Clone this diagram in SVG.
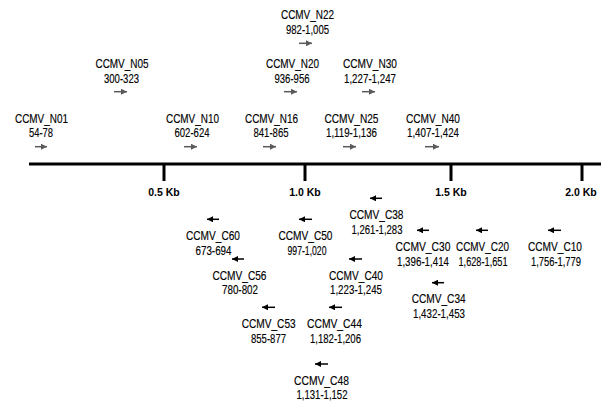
<svg xmlns="http://www.w3.org/2000/svg" width="601" height="403" viewBox="0 0 601 403">
<defs>
<marker id="ahg" markerUnits="userSpaceOnUse" markerWidth="6" markerHeight="6" refX="6" refY="3" orient="auto"><path d="M0,0 L6,3 L0,6 z" fill="#5a5a5a"/></marker>
<marker id="ahb" markerUnits="userSpaceOnUse" markerWidth="6" markerHeight="6" refX="6" refY="3" orient="auto"><path d="M0,0 L6,3 L0,6 z" fill="#000"/></marker>
</defs>
<style>
text{font-family:"Liberation Sans",Arial,sans-serif;font-size:12px;text-anchor:middle;fill:#000;stroke:#000;stroke-width:0.15}
.kb{font-size:10.5px;font-weight:bold;stroke-width:0}
.fw{stroke:#5a5a5a;stroke-width:1.5;marker-end:url(#ahg)}
.rv{stroke:#000;stroke-width:1.5;marker-end:url(#ahb)}
.ax{stroke:#000;stroke-width:3;fill:none}
</style>
<rect width="601" height="403" fill="#fff"/>
<g id="axis">
<line class="ax" x1="29" y1="164" x2="601" y2="164"/>
<line class="ax" x1="164" y1="164" x2="164" y2="181"/>
<line class="ax" x1="305" y1="164" x2="305" y2="181"/>
<line class="ax" x1="451" y1="164" x2="451" y2="181"/>
<line class="ax" x1="582" y1="164" x2="582" y2="181"/>
<text class="kb" x="164" y="196">0.5 Kb</text>
<text class="kb" x="305" y="196">1.0 Kb</text>
<text class="kb" x="451" y="196">1.5 Kb</text>
<text class="kb" x="581" y="196">2.0 Kb</text>
</g>
<g id="connectors"></g>
<g id="N01"><text x="41.5" y="122.5" textLength="53" lengthAdjust="spacingAndGlyphs">CCMV_N01</text><text x="41" y="137" textLength="24" lengthAdjust="spacingAndGlyphs">54-78</text><line class="fw" x1="35" y1="146.7" x2="47" y2="146.7"/></g>
<g id="N05"><text x="122" y="68.3" textLength="53" lengthAdjust="spacingAndGlyphs">CCMV_N05</text><text x="121.5" y="82.7" textLength="35" lengthAdjust="spacingAndGlyphs">300-323</text><line class="fw" x1="114" y1="91.7" x2="127" y2="91.7"/></g>
<g id="N10"><text x="192.5" y="122.5" textLength="53" lengthAdjust="spacingAndGlyphs">CCMV_N10</text><text x="192" y="137" textLength="35" lengthAdjust="spacingAndGlyphs">602-624</text><line class="fw" x1="184" y1="146.7" x2="197" y2="146.7"/></g>
<g id="N16"><text x="271.5" y="122.5" textLength="53" lengthAdjust="spacingAndGlyphs">CCMV_N16</text><text x="271" y="137" textLength="35" lengthAdjust="spacingAndGlyphs">841-865</text><line class="fw" x1="263" y1="146.7" x2="276" y2="146.7"/></g>
<g id="N20"><text x="292.5" y="68.3" textLength="53" lengthAdjust="spacingAndGlyphs">CCMV_N20</text><text x="292" y="82.7" textLength="35" lengthAdjust="spacingAndGlyphs">936-956</text><line class="fw" x1="284" y1="91.7" x2="297" y2="91.7"/></g>
<g id="N22"><text x="307.5" y="19" textLength="53" lengthAdjust="spacingAndGlyphs">CCMV_N22</text><text x="307.5" y="33.5" textLength="43" lengthAdjust="spacingAndGlyphs">982-1,005</text><line class="fw" x1="299" y1="43.3" x2="312" y2="43.3"/></g>
<g id="N30"><text x="370" y="68.3" textLength="54" lengthAdjust="spacingAndGlyphs">CCMV_N30</text><text x="370" y="82.7" textLength="52" lengthAdjust="spacingAndGlyphs">1,227-1,247</text><line class="fw" x1="362" y1="91.7" x2="375" y2="91.7"/></g>
<g id="N25"><text x="351.5" y="122.5" textLength="54" lengthAdjust="spacingAndGlyphs">CCMV_N25</text><text x="351.5" y="137" textLength="51" lengthAdjust="spacingAndGlyphs">1,119-1,136</text><line class="fw" x1="343" y1="146.7" x2="356" y2="146.7"/></g>
<g id="N40"><text x="433" y="122.5" textLength="54" lengthAdjust="spacingAndGlyphs">CCMV_N40</text><text x="433" y="137" textLength="52" lengthAdjust="spacingAndGlyphs">1,407-1,424</text><line class="fw" x1="425" y1="146.7" x2="439" y2="146.7"/></g>
<g id="C38"><text x="376.5" y="219.3" textLength="54" lengthAdjust="spacingAndGlyphs">CCMV_C38</text><text x="377" y="234" textLength="51" lengthAdjust="spacingAndGlyphs">1,261-1,283</text><line class="rv" x1="382" y1="198.3" x2="370" y2="198.3"/></g>
<g id="C60"><text x="213" y="240" textLength="54" lengthAdjust="spacingAndGlyphs">CCMV_C60</text><text x="213.5" y="254.5" textLength="36" lengthAdjust="spacingAndGlyphs">673-694</text><line class="rv" x1="219" y1="219.3" x2="207" y2="219.3"/></g>
<g id="C50"><text x="305.5" y="240" textLength="54" lengthAdjust="spacingAndGlyphs">CCMV_C50</text><text x="307" y="254.5" textLength="39" lengthAdjust="spacingAndGlyphs">997-1,020</text><line class="rv" x1="312" y1="219.3" x2="299" y2="219.3"/></g>
<g id="C56"><text x="239.5" y="279.8" textLength="54" lengthAdjust="spacingAndGlyphs">CCMV_C56</text><text x="240" y="294.3" textLength="36" lengthAdjust="spacingAndGlyphs">780-802</text><line class="rv" x1="244" y1="259" x2="232" y2="259"/></g>
<g id="C40"><text x="356" y="279.8" textLength="54" lengthAdjust="spacingAndGlyphs">CCMV_C40</text><text x="356" y="294.3" textLength="52" lengthAdjust="spacingAndGlyphs">1,223-1,245</text><line class="rv" x1="362" y1="259" x2="349" y2="259"/></g>
<g id="C30"><text x="423" y="251" textLength="55" lengthAdjust="spacingAndGlyphs">CCMV_C30</text><text x="423" y="265.5" textLength="52" lengthAdjust="spacingAndGlyphs">1,396-1,414</text><line class="rv" x1="429" y1="230.3" x2="417" y2="230.3"/></g>
<g id="C20"><text x="482.5" y="251" textLength="53" lengthAdjust="spacingAndGlyphs">CCMV_C20</text><text x="483" y="265.5" textLength="49" lengthAdjust="spacingAndGlyphs">1,628-1,651</text><line class="rv" x1="488" y1="230.3" x2="476" y2="230.3"/></g>
<g id="C10"><text x="555" y="251" textLength="54" lengthAdjust="spacingAndGlyphs">CCMV_C10</text><text x="556" y="265.5" textLength="50" lengthAdjust="spacingAndGlyphs">1,756-1,779</text><line class="rv" x1="561" y1="230.3" x2="548" y2="230.3"/></g>
<g id="C34"><text x="438.7" y="303.3" textLength="54" lengthAdjust="spacingAndGlyphs">CCMV_C34</text><text x="439" y="318" textLength="52" lengthAdjust="spacingAndGlyphs">1,432-1,453</text><line class="rv" x1="444" y1="282.7" x2="432" y2="282.7"/></g>
<g id="C53"><text x="268.7" y="328.2" textLength="54" lengthAdjust="spacingAndGlyphs">CCMV_C53</text><text x="268.5" y="342.7" textLength="35" lengthAdjust="spacingAndGlyphs">855-877</text><line class="rv" x1="275" y1="307.3" x2="262" y2="307.3"/></g>
<g id="C44"><text x="334.5" y="328.2" textLength="55" lengthAdjust="spacingAndGlyphs">CCMV_C44</text><text x="335.5" y="342.7" textLength="51" lengthAdjust="spacingAndGlyphs">1,182-1,206</text><line class="rv" x1="342" y1="307.3" x2="329" y2="307.3"/></g>
<g id="C48"><text x="321.5" y="385" textLength="55" lengthAdjust="spacingAndGlyphs">CCMV_C48</text><text x="322" y="399" textLength="51" lengthAdjust="spacingAndGlyphs">1,131-1,152</text><line class="rv" x1="328" y1="364" x2="315" y2="364"/></g>
</svg>
